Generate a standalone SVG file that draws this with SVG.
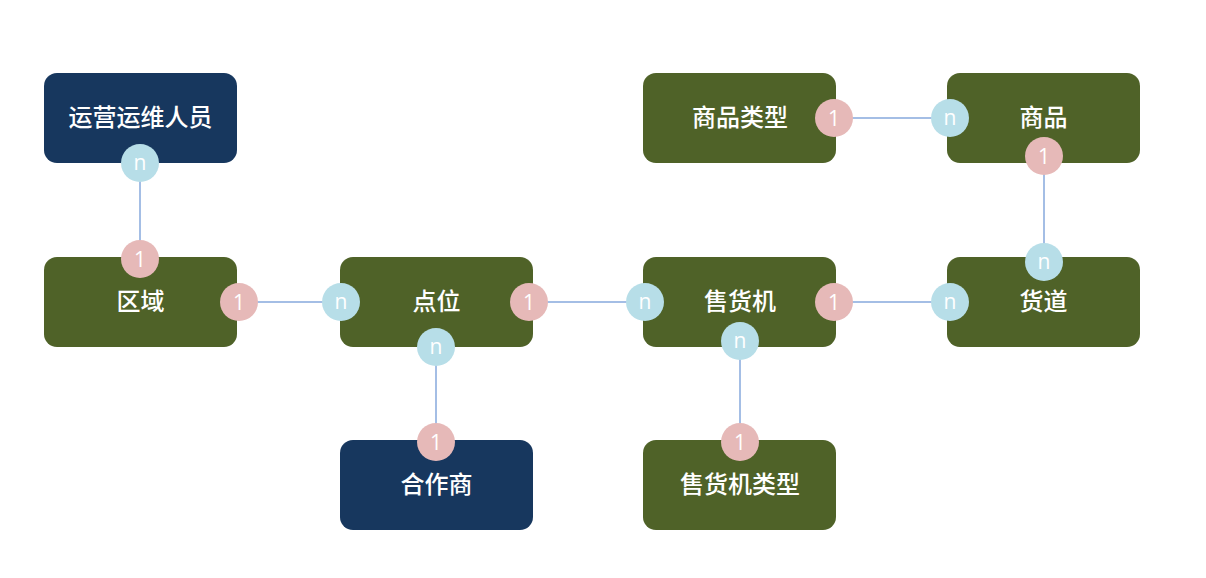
<svg xmlns="http://www.w3.org/2000/svg" width="1206" height="578" viewBox="0 0 1206 578">
<style>
.box{stroke:none}
.g{fill:#4f6228}
.b{fill:#17375e}
.lbl{font-family:"Noto Sans CJK SC","Liberation Sans",sans-serif;font-size:24px;font-weight:500;fill:#ffffff;text-anchor:middle}
.one{fill:#e6b9b8}
.many{fill:#b7dee8}
.ct{font-family:"Open Sans","Liberation Sans",sans-serif;font-size:21px;fill:#ffffff;text-anchor:middle}
.conn line{stroke:#86a8dc;stroke-width:1.5}
</style>
<rect width="1206" height="578" fill="#ffffff"/>
<g id="connectors" class="conn">
<line x1="140" y1="163" x2="140" y2="259"/>
<line x1="239" y1="302" x2="341" y2="302"/>
<line x1="529" y1="302" x2="645" y2="302"/>
<line x1="834" y1="302" x2="950" y2="302"/>
<line x1="436" y1="347" x2="436" y2="442"/>
<line x1="740" y1="341" x2="740" y2="442"/>
<line x1="1044" y1="156" x2="1044" y2="262"/>
<line x1="834" y1="118" x2="950" y2="118"/>
</g>
<g id="node-yunying">
<rect class="box b" x="44" y="73" width="193" height="90" rx="13"/>
<text class="lbl" x="140.5" y="126">运营运维人员</text>
<circle class="many" cx="140" cy="163" r="19"/><text class="ct" x="140" y="170">n</text>
</g>
<g id="node-quyu">
<rect class="box g" x="44" y="257" width="193" height="90" rx="13"/>
<text class="lbl" x="140.5" y="310">区域</text>
<circle class="one" cx="140" cy="259" r="19"/><text class="ct" x="140" y="266.5">1</text>
<circle class="one" cx="239" cy="302" r="19"/><text class="ct" x="239" y="309.5">1</text>
</g>
<g id="node-dianwei">
<rect class="box g" x="340" y="257" width="193" height="90" rx="13"/>
<text class="lbl" x="436.5" y="310">点位</text>
<circle class="many" cx="341" cy="302" r="19"/><text class="ct" x="341" y="309">n</text>
<circle class="one" cx="529" cy="302" r="19"/><text class="ct" x="529" y="309.5">1</text>
<circle class="many" cx="436" cy="347" r="19"/><text class="ct" x="436" y="354">n</text>
</g>
<g id="node-hezuoshang">
<rect class="box b" x="340" y="440" width="193" height="90" rx="13"/>
<text class="lbl" x="436.5" y="493">合作商</text>
<circle class="one" cx="436" cy="442" r="19"/><text class="ct" x="436" y="449.5">1</text>
</g>
<g id="node-shouhuoji">
<rect class="box g" x="643" y="257" width="193" height="90" rx="13"/>
<text class="lbl" x="740" y="310">售货机</text>
<circle class="many" cx="645" cy="302" r="19"/><text class="ct" x="645" y="309">n</text>
<circle class="one" cx="834" cy="302" r="19"/><text class="ct" x="834" y="309.5">1</text>
<circle class="many" cx="740" cy="341" r="19"/><text class="ct" x="740" y="348">n</text>
</g>
<g id="node-shouhuojileixing">
<rect class="box g" x="643" y="440" width="193" height="90" rx="13"/>
<text class="lbl" x="740" y="493">售货机类型</text>
<circle class="one" cx="740" cy="442" r="19"/><text class="ct" x="740" y="449.5">1</text>
</g>
<g id="node-huodao">
<rect class="box g" x="947" y="257" width="193" height="90" rx="13"/>
<text class="lbl" x="1043.5" y="310">货道</text>
<circle class="many" cx="950" cy="302" r="19"/><text class="ct" x="950" y="309">n</text>
<circle class="many" cx="1044" cy="262" r="19"/><text class="ct" x="1044" y="269">n</text>
</g>
<g id="node-shangpinleixing">
<rect class="box g" x="643" y="73" width="193" height="90" rx="13"/>
<text class="lbl" x="740" y="126">商品类型</text>
<circle class="one" cx="834" cy="118" r="19"/><text class="ct" x="834" y="125.5">1</text>
</g>
<g id="node-shangpin">
<rect class="box g" x="947" y="73" width="193" height="90" rx="13"/>
<text class="lbl" x="1043.5" y="126">商品</text>
<circle class="many" cx="950" cy="118" r="19"/><text class="ct" x="950" y="125">n</text>
<circle class="one" cx="1044" cy="156" r="19"/><text class="ct" x="1044" y="163.5">1</text>
</g>
</svg>
